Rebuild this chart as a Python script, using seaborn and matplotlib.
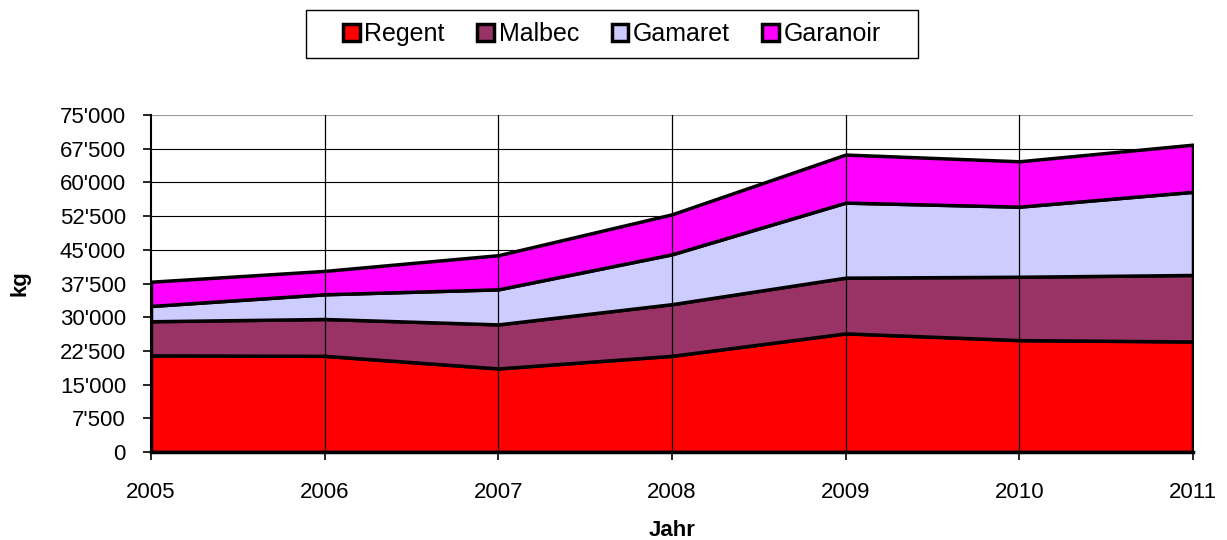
import matplotlib
matplotlib.use("Agg")
import matplotlib.pyplot as plt
import seaborn as sns
from matplotlib.patches import Patch, Rectangle
from matplotlib.ticker import FuncFormatter, MultipleLocator

years = [2005, 2006, 2007, 2008, 2009, 2010, 2011]
regent = [21500, 21400, 18600, 21400, 26400, 24900, 24600]
malbec = [7600, 8200, 9800, 11500, 12400, 14100, 14800]
gamaret = [3400, 5500, 7800, 11100, 16700, 15600, 18500]
garanoir = [5400, 5200, 7600, 8900, 10700, 10100, 10500]

names = ["Regent", "Malbec", "Gamaret", "Garanoir"]
colors = ["#ff0000", "#993366", "#ccccff", "#ff00ff"]

sns.set_theme(style="white")
plt.rcParams["font.family"] = ["Liberation Sans", "DejaVu Sans"]
plt.rcParams["text.color"] = "black"
plt.rcParams["xtick.color"] = "black"
plt.rcParams["ytick.color"] = "black"
plt.rcParams["axes.labelcolor"] = "black"

W, H = 1227, 540
fig = plt.figure(figsize=(W / 100, H / 100), dpi=100)
ax = fig.add_axes([151 / W, 1 - 452 / H, (1193 - 151) / W, (452 - 115) / H])

# horizontal grid behind the areas
for v in range(7500, 75001, 7500):
    ax.axhline(v, color="#999999" if v == 75000 else "black", lw=0.8, zorder=0)

ax.stackplot(years, regent, malbec, gamaret, garanoir, colors=colors,
             edgecolor="black", linewidth=2.5, zorder=2)

# vertical year lines drawn over the areas
for y in years[1:-1]:
    ax.axvline(y, color="black", lw=0.9, zorder=3)

ax.set_xlim(2005, 2011)
ax.set_ylim(0, 75000)
ax.yaxis.set_major_locator(MultipleLocator(7500))
ax.yaxis.set_major_formatter(
    FuncFormatter(lambda v, p: f"{int(v):,}".replace(",", "'")))
ax.set_xticks(years)

for s in ["top", "right"]:
    ax.spines[s].set_visible(False)
ax.spines["left"].set_color("black")
ax.spines["left"].set_linewidth(1.5)
ax.spines["bottom"].set_color("black")
ax.spines["bottom"].set_linewidth(2.5)
ax.spines["left"].set_zorder(4)
ax.spines["bottom"].set_zorder(4)

ax.tick_params(axis="y", direction="out", length=6, width=1.2,
               labelsize=16, pad=12, left=True)
ax.tick_params(axis="x", direction="out", length=6, width=1.2,
               labelsize=16, pad=15.5, bottom=True)

ax.set_ylabel("kg", fontsize=16, fontweight="bold")
ax.set_xlabel("Jahr", fontsize=16, fontweight="bold")
ax.yaxis.set_label_coords((31 - 151) / 1042, 0.5)
ax.xaxis.set_label_coords(0.5, -(520 - 452) / 337)

handles = [Patch(facecolor=c, edgecolor="black", linewidth=2.5, label=n)
           for c, n in zip(colors, names)]
leg = fig.legend(handles=handles, loc="center", bbox_to_anchor=(612 / W, 1 - 34 / H),
                 ncol=4, frameon=False, fontsize=18,
                 handlelength=0.65, handleheight=0.65, handletextpad=0.2,
                 columnspacing=1.3)
# legend box
fig.patches.append(Rectangle((306 / W, 1 - 58 / H), (918 - 306) / W, 48 / H,
                             transform=fig.transFigure, facecolor="none",
                             edgecolor="black", linewidth=1.0))

fig.savefig("out.png", dpi=100)
